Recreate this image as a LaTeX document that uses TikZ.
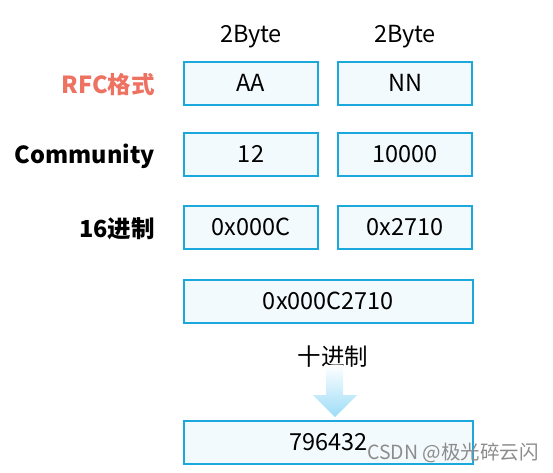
\documentclass[tikz,border=0pt]{standalone}
\usepackage{fontspec}
\setmainfont{Noto Sans CJK SC}
\usetikzlibrary{positioning}
\definecolor{boxline}{HTML}{1BA8DC}
\definecolor{boxfill}{HTML}{F3FAFD}
\definecolor{rfcred}{HTML}{EE7262}
\definecolor{arrowblue}{HTML}{9CDCF7}
\begin{document}
\begin{tikzpicture}[x=1pt,y=1pt,
    field/.style={rectangle, draw=boxline, line width=2pt, fill=boxfill,
    minimum width=134pt, minimum height=43pt, inner sep=0pt,
    font=\fontsize{23.5}{26}\selectfont},
    wide/.style={field, minimum width=289pt},
    rowlabel/.style={anchor=east, inner sep=0pt, font=\fontsize{23.5}{26}\selectfont\bfseries},
    sizelabel/.style={inner sep=0pt, font=\fontsize{23.5}{26}\selectfont}]
    \useasboundingbox (0,0) rectangle (553,-472);
    % rows of fields
    \node[field] (aa) at (251,-83) {AA};
    \node[field] (nn) at (405,-83) {NN};
    \node[field] (dec1) at (251,-154) {12};
    \node[field] (dec2) at (405,-154) {10000};
    \node[field] (hex1) at (251,-227) {0x000C};
    \node[field] (hex2) at (405,-227) {0x2710};
    \node[wide] (hexall) at (328.5,-301) {0x000C2710};
    \node[wide] (result) at (328.5,-442) {796432};
    % labels
    \node[sizelabel] (byte1) at (251,-37) {2Byte};
    \node[sizelabel] (byte2) at (405,-37) {2Byte};
    \node[rowlabel, text=rfcred] (rfc) at (155,-84.5) {RFC格式};
    \node[rowlabel] (comm) at (155,-156) {Community};
    \node[rowlabel] (hex) at (155,-229) {16进制};
    \node[sizelabel] (conv) at (333,-357) {十进制};
    % block arrow
    \shade[top color=white, bottom color=arrowblue]
        (326,-365) -- (343,-365) -- (343,-395) -- (357,-395) -- (335,-417)
        -- (313,-395) -- (326,-395) -- cycle;
    \node[anchor=west, inner sep=0pt, text=black!45, font=\fontsize{19.5}{22}\selectfont]
        (mark) at (367,-453) {CSDN @极光碎云闪};
\end{tikzpicture}
\end{document}
